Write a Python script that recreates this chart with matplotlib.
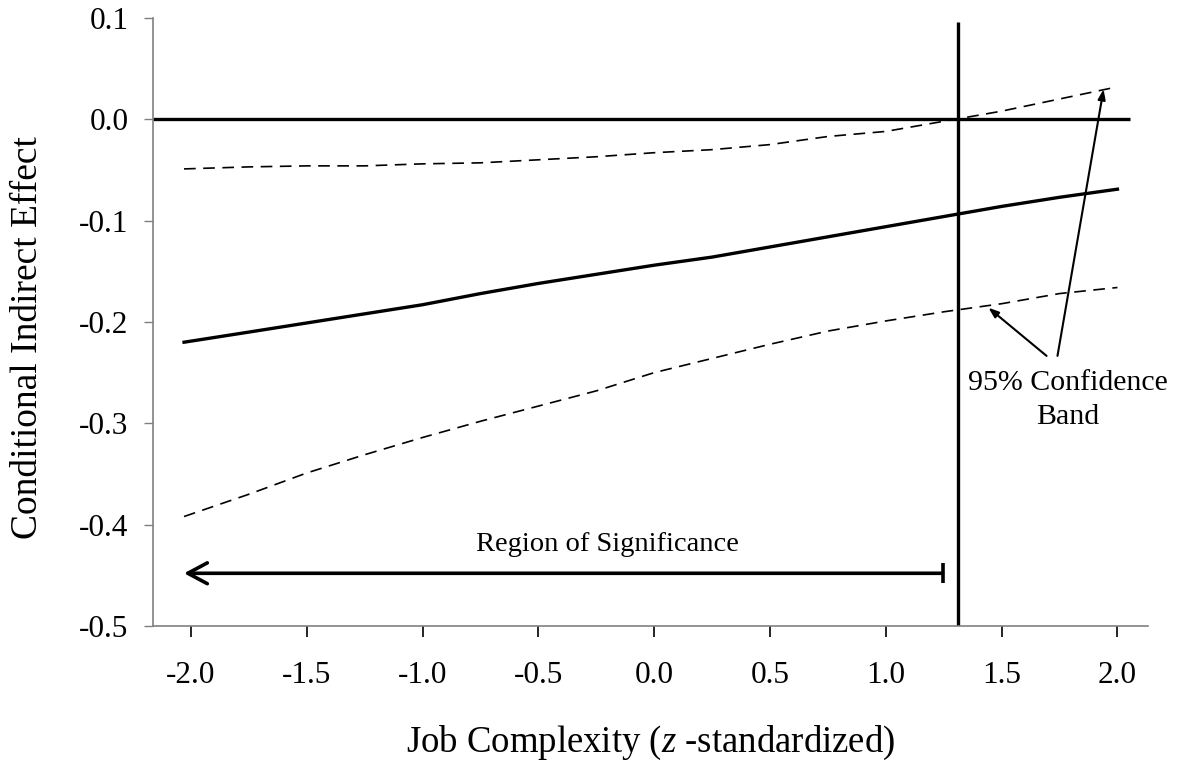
import matplotlib
matplotlib.use("Agg")
import matplotlib.pyplot as plt

plt.rcParams["font.family"] = ["Liberation Serif", "DejaVu Serif"]
plt.rcParams["mathtext.fontset"] = "custom"
plt.rcParams["mathtext.rm"] = "Liberation Serif"
plt.rcParams["mathtext.it"] = "Liberation Serif:italic"

# job complexity (z-standardized) values
job_z = [-2.03, -1.75, -1.5, -1.25, -1.0, -0.75, -0.5, -0.25, 0.0,
         0.25, 0.5, 0.75, 1.0, 1.25, 1.5, 1.75, 2.0]
# conditional indirect effect
effect = [-0.220, -0.210, -0.201, -0.192, -0.183, -0.172, -0.162, -0.153, -0.144,
          -0.136, -0.126, -0.116, -0.106, -0.096, -0.086, -0.077, -0.069]
# 95% confidence band
ci_upper = [-0.049, -0.047, -0.046, -0.046, -0.044, -0.043, -0.040, -0.037, -0.033,
            -0.030, -0.025, -0.017, -0.012, -0.002, 0.008, 0.020, 0.032]
ci_lower = [-0.392, -0.370, -0.349, -0.331, -0.314, -0.298, -0.283, -0.268, -0.250,
            -0.236, -0.222, -0.209, -0.199, -0.190, -0.182, -0.172, -0.166]

jn_point = 1.31          # Johnson-Neyman boundary
region_end = 1.245       # end of region of significance arrow
region_y = -0.448

x_ticks = [-2.0, -1.5, -1.0, -0.5, 0.0, 0.5, 1.0, 1.5, 2.0]
y_ticks = [0.1, 0.0, -0.1, -0.2, -0.3, -0.4, -0.5]

fig = plt.figure(figsize=(11.77, 7.62), dpi=100)
ax = fig.add_axes([0.130, 0.1785, 0.845, 0.798])

# zero line and J-N vertical line
ax.plot([-2.164, 2.056], [0, 0], color="black", lw=2.4, solid_capstyle="butt")
ax.plot([jn_point, jn_point], [-0.5, 0.096], color="black", lw=2.4, solid_capstyle="butt")

ax.plot(job_z, effect, color="black", lw=2.4)
ax.plot(job_z, ci_upper, color="black", lw=1.2, dashes=(7, 4.5))
ax.plot(job_z, ci_lower, color="black", lw=1.2, dashes=(7, 4.5))

# region of significance arrow
ax.annotate("", xy=(job_z[0], region_y), xytext=(region_end, region_y),
            arrowprops=dict(arrowstyle="->,head_length=1.4,head_width=0.75",
                            color="black", lw=2.6, shrinkA=0, shrinkB=0))
ax.plot([region_end], [region_y], marker="|", markersize=15, mew=2.6, color="black")
ax.text(-0.2, -0.42, "Region of Significance", ha="center", va="center", fontsize=20.5)

# confidence band labels
ax.text(1.784, -0.277, "95% Confidence\nBand", ha="center", va="center",
        fontsize=21.5, linespacing=1.38)
ax.annotate("", xy=(1.443, -0.186), xytext=(1.694, -0.2335),
            arrowprops=dict(arrowstyle="-|>,head_length=0.6,head_width=0.22",
                            color="black", lw=1.5, shrinkA=0, shrinkB=0))
ax.annotate("", xy=(1.94, 0.0296), xytext=(1.741, -0.2335),
            arrowprops=dict(arrowstyle="-|>,head_length=0.6,head_width=0.22",
                            color="black", lw=1.5, shrinkA=0, shrinkB=0))

ax.set_xlim(-2.164, 2.13)
ax.set_ylim(-0.5, 0.1)
ax.set_xticks(x_ticks)
ax.set_xticklabels([f"{v:.1f}" for v in x_ticks])
ax.set_yticks(y_ticks)
ax.set_yticklabels([f"{v:.1f}" for v in y_ticks])

for side in ["top", "right"]:
    ax.spines[side].set_visible(False)
for side in ["left", "bottom"]:
    ax.spines[side].set_color("#808080")
    ax.spines[side].set_linewidth(1.2)
ax.tick_params(axis="x", direction="out", length=8, width=1.2, color="black",
               labelsize=22.5, pad=17)
ax.tick_params(axis="y", direction="out", length=6.5, width=1.0, color="#808080",
               labelsize=22.5, pad=11)

fig.text(651 / 1177, 1 - 743 / 762, "Job Complexity ($\\mathit{z}$ -standardized)",
         fontsize=26.5, ha="center", va="center")
fig.text(28 / 1177, 1 - 338 / 762, "Conditional Indirect Effect",
         fontsize=27, ha="center", va="center", rotation=90)

fig.savefig("out.png", dpi=100)
